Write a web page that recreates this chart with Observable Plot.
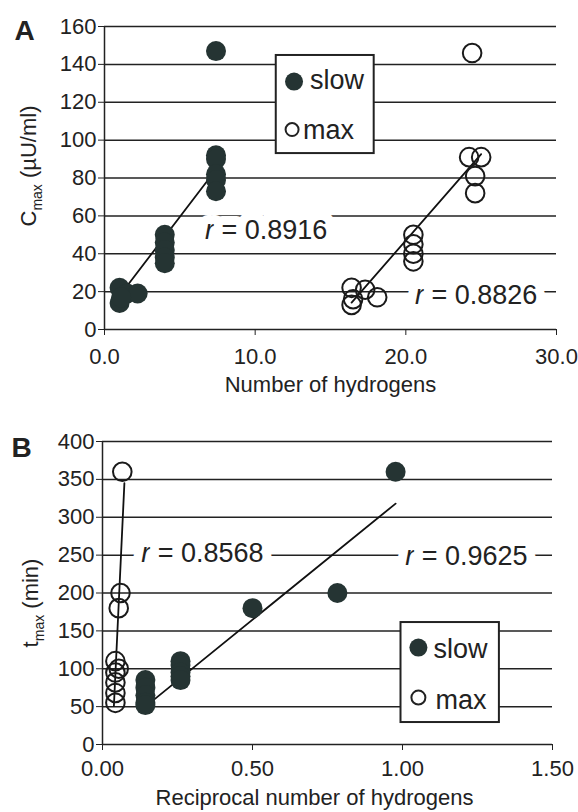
<!DOCTYPE html>
<html><head><meta charset="utf-8">
<script src="https://cdn.jsdelivr.net/npm/d3@7"></script>
<script src="https://cdn.jsdelivr.net/npm/@observablehq/plot@0.6"></script>
<style>
html,body{margin:0;padding:0;background:#fff;overflow:hidden;}
#wrap{width:578px;}
#wrap svg{display:block;}
</style></head><body><div id="wrap"></div>
<script>
// ---------- Panel A data: Cmax vs number of hydrogens ----------
const slowA_h = [1.0, 1.0, 1.5, 2.2, 1.1, 4.0, 4.0, 4.0, 4.0, 4.0, 7.4, 7.4, 7.4, 7.4, 7.4, 7.4];
const slowA_c = [22, 14, 19, 19, 17, 50, 46, 42, 38, 35, 147, 92, 90, 82, 79, 73];
const maxA_h  = [16.4, 16.5, 16.4, 17.3, 18.1, 20.5, 20.5, 20.5, 20.5, 24.4, 24.2, 25.0, 24.6, 24.6];
const maxA_c  = [22, 16, 13, 21, 17, 50, 45, 40, 36, 146, 91, 91, 81, 72];
const trendA_slow_h = [1.0, 7.4],  trendA_slow_c = [17.8, 84.5];
const trendA_max_h  = [16.4, 25.0], trendA_max_c  = [14.2, 92.6];
const rA_labels = ["r = 0.8916", "r = 0.8826"];
const xTicksA = [0, 10, 20, 30];
const yTicksA = [0, 20, 40, 60, 80, 100, 120, 140, 160];

// ---------- Panel B data: tmax vs reciprocal number of hydrogens ----------
const slowB_r = [0.143, 0.143, 0.143, 0.143, 0.143, 0.26, 0.26, 0.26, 0.26, 0.26, 0.5, 0.783, 0.977];
const slowB_t = [85, 75, 65, 55, 52, 110, 105, 95, 90, 85, 180, 200, 360];
const maxB_r  = [0.066, 0.06, 0.054, 0.043, 0.054, 0.043, 0.043, 0.043, 0.043];
const maxB_t  = [360, 200, 180, 110, 100, 95, 82, 68, 55];
const trendB_slow_r = [0.143, 0.977], trendB_slow_t = [50, 318];
const trendB_max_r  = [0.038, 0.073], trendB_max_t = [51, 345];
const rB_labels = ["r = 0.8568", "r = 0.9625"];
const xTicksB = [0, 0.5, 1.0, 1.5];
const yTicksB = [0, 50, 100, 150, 200, 250, 300, 350, 400];

const seriesNames = ["slow", "max"];

const zip = (xs, ys) => xs.map((x, i) => ({x, y: ys[i]}));
const INK = "#222";
const DOT = "#253433";
const FONT = "'Liberation Sans', Arial, sans-serif";

function panel(o) {
  const svg = Plot.plot({
    width: 578, height: o.height,
    marginTop: o.mt, marginBottom: o.mb, marginLeft: o.ml, marginRight: o.mr,
    style: {fontFamily: FONT, fontSize: "22px", color: INK, background: "white"},
    x: {domain: o.xDomain},
    y: {domain: o.yDomain},
    marks: [
      Plot.gridY({ticks: o.yTicks, stroke: INK, strokeOpacity: 1, strokeWidth: 1.5}),
      Plot.ruleX([0], {stroke: INK, strokeWidth: 1.5}),
      Plot.text(o.ann, {x: "x", y: "y", text: "t", fontSize: 27, fill: INK, stroke: "white", strokeWidth: 18}),
      Plot.rect([o.leg.box], {x1: "x1", x2: "x2", y1: "y1", y2: "y2", fill: "white", stroke: INK, strokeWidth: 2}),
      Plot.dot([o.leg.dot], {x: "x", y: "y", r: 9, fill: DOT}),
      Plot.dot([o.leg.circ], {x: "x", y: "y", r: o.leg.cr, fill: "none", stroke: INK, strokeWidth: 2}),
      Plot.text(o.leg.texts, {x: "x", y: "y", text: "t", textAnchor: "start", fontSize: 27, fill: INK}),
      Plot.line(o.trendSlow, {x: "x", y: "y", stroke: "#111", strokeWidth: 1.8}),
      Plot.line(o.trendMax, {x: "x", y: "y", stroke: "#111", strokeWidth: 1.8}),
      Plot.dot(o.slow, {x: "x", y: "y", r: 10, fill: DOT}),
      Plot.dot(o.max, {x: "x", y: "y", r: 9.3, fill: "none", stroke: "#1a1a1a", strokeWidth: 2}),
      Plot.axisX({ticks: o.xTicks, tickFormat: o.xFmt, tickSize: 6, tickPadding: o.xPad, label: null, fontSize: 22}),
      Plot.axisY({ticks: o.yTicks, tickSize: 6, tickPadding: 2, label: null, fontSize: 22}),
      Plot.text([o.xLabel], {frameAnchor: "bottom", lineAnchor: "middle", textAnchor: "middle", dy: o.xLabelDy, dx: o.xLabelDx, fontSize: 22, fill: INK}),
      Plot.text([o.yLabel], {frameAnchor: "left", textAnchor: "middle", lineAnchor: "middle", dx: o.yLabelDx, dy: o.yLabelDy, rotate: -90, fontSize: 22, fill: INK}),
      Plot.text([o.letter], {frameAnchor: "top-left", textAnchor: "middle", lineAnchor: "middle", dx: o.letterDx, dy: o.letterDy, fontSize: 28, fontWeight: "bold", fill: INK})
    ]
  });
  // italic r in correlation labels, subscript in y-axis title
  svg.querySelectorAll("text").forEach(t => {
    const s = t.textContent;
    if (s.startsWith("r = ")) {
      t.innerHTML = `<tspan font-style="italic">r</tspan>${s.slice(1)}`;
    } else if (s === o.yLabel) {
      const rest = s.split(" ").slice(1).join(" ");
      t.innerHTML = `${o.ySym}<tspan font-size="14" dy="6">max</tspan><tspan dy="-6"> ${rest}</tspan>`;
    }
  });
  return svg;
}

const wrap = document.getElementById("wrap");

wrap.appendChild(panel({
  height: 400, mt: 26, mb: 71, ml: 104, mr: 22,
  xDomain: [0, 30], yDomain: [0, 160],
  xTicks: xTicksA, yTicks: yTicksA, xFmt: d3.format(".1f"), xPad: 13,
  slow: zip(slowA_h, slowA_c), max: zip(maxA_h, maxA_c),
  trendSlow: zip(trendA_slow_h, trendA_slow_c), trendMax: zip(trendA_max_h, trendA_max_c),
  ann: [{x: 10.73, y: 52.3, t: rA_labels[0]}, {x: 24.67, y: 18.0, t: rA_labels[1]}],
  leg: {
    box: {x1: 11.4, x2: 17.9, y1: 92.9, y2: 144.7},
    dot: {x: 12.58, y: 130.9}, circ: {x: 12.45, y: 105.6}, cr: 6.5,
    texts: [{x: 13.64, y: 131.3, t: seriesNames[0]}, {x: 13.18, y: 105.3, t: seriesNames[1]}]
  },
  xLabel: "Number of hydrogens", xLabelDy: 55, xLabelDx: 0,
  yLabel: "Cmax (µU/ml)", ySym: "C", yLabelDx: -76, yLabelDy: -12,
  letter: "A", letterDx: -80, letterDy: 5
}));

wrap.appendChild(panel({
  height: 412, mt: 41, mb: 68, ml: 102, mr: 26,
  xDomain: [0, 1.5], yDomain: [0, 400],
  xTicks: xTicksB, yTicks: yTicksB, xFmt: d3.format(".2f"), xPad: 10,
  slow: zip(slowB_r, slowB_t), max: zip(maxB_r, maxB_t),
  trendSlow: zip(trendB_slow_r, trendB_slow_t), trendMax: zip(trendB_max_r, trendB_max_t),
  ann: [{x: 0.333, y: 252.6, t: rB_labels[0]}, {x: 1.213, y: 248, t: rB_labels[1]}],
  leg: {
    box: {x1: 0.995, x2: 1.323, y1: 29, y2: 161},
    dot: {x: 1.053, y: 128}, circ: {x: 1.053, y: 62}, cr: 7,
    texts: [{x: 1.103, y: 126, t: seriesNames[0]}, {x: 1.11, y: 58, t: seriesNames[1]}]
  },
  xLabel: "Reciprocal number of hydrogens", xLabelDy: 53, xLabelDx: -13,
  yLabel: "tmax (min)", ySym: "t", yLabelDx: -72, yLabelDy: 10,
  letter: "B", letterDx: -81, letterDy: 7
}));
</script></body></html>
